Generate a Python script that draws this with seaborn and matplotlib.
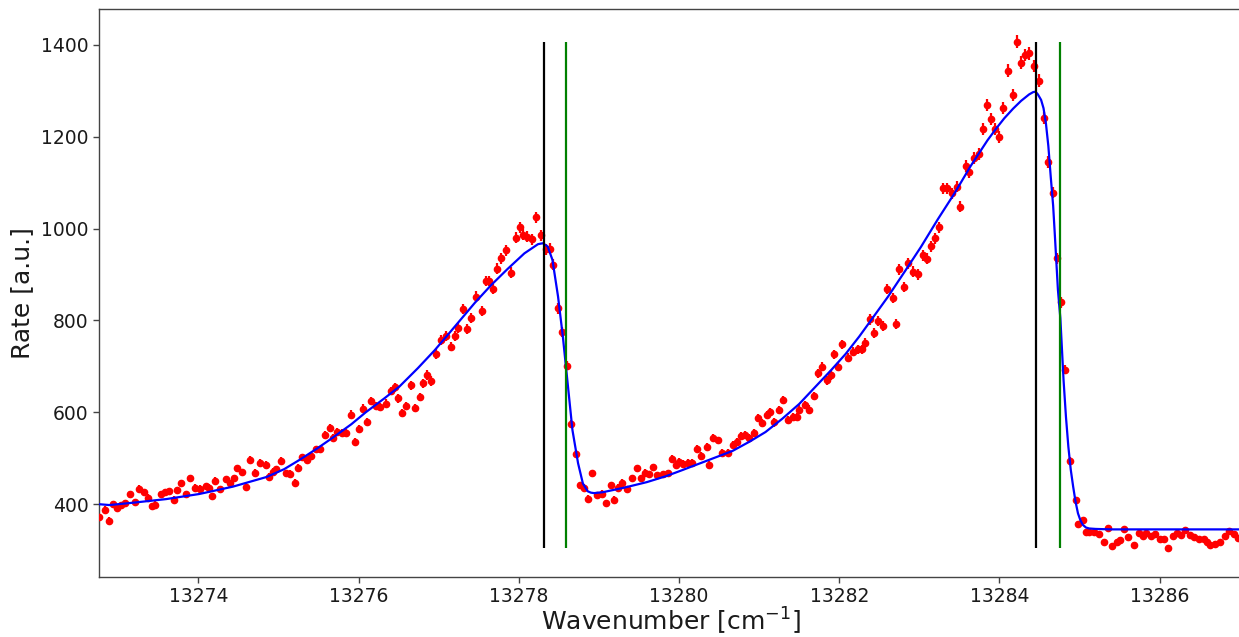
import matplotlib
matplotlib.use("Agg")
import matplotlib.pyplot as plt
import seaborn as sns
import pandas as pd

wavenumber = [
    13272.76, 13272.84, 13272.88, 13272.93, 13272.98, 13273.03, 13273.09, 13273.15, 13273.21, 13273.26,
    13273.32, 13273.37, 13273.42, 13273.46, 13273.53, 13273.58, 13273.64, 13273.69, 13273.73, 13273.78,
    13273.84, 13273.90, 13273.96, 13274.02, 13274.09, 13274.13, 13274.17, 13274.21, 13274.27, 13274.34,
    13274.40, 13274.44, 13274.48, 13274.54, 13274.60, 13274.65, 13274.71, 13274.77, 13274.84, 13274.88,
    13274.93, 13274.97, 13275.03, 13275.09, 13275.15, 13275.21, 13275.25, 13275.30, 13275.36, 13275.41,
    13275.47, 13275.52, 13275.58, 13275.64, 13275.68, 13275.73, 13275.79, 13275.84, 13275.91, 13275.96,
    13276.01, 13276.06, 13276.11, 13276.16, 13276.22, 13276.27, 13276.34, 13276.41, 13276.46, 13276.49,
    13276.54, 13276.59, 13276.65, 13276.71, 13276.77, 13276.81, 13276.86, 13276.91, 13276.97, 13277.03,
    13277.09, 13277.15, 13277.20, 13277.24, 13277.30, 13277.35, 13277.40, 13277.47, 13277.54, 13277.59,
    13277.63, 13277.68, 13277.73, 13277.78, 13277.84, 13277.90, 13277.97, 13278.02, 13278.05, 13278.10,
    13278.16, 13278.22, 13278.28, 13278.34, 13278.39, 13278.43, 13278.49, 13278.54, 13278.60, 13278.65,
    13278.72, 13278.77, 13278.82, 13278.86, 13278.91, 13278.98, 13279.04, 13279.09, 13279.15, 13279.19,
    13279.24, 13279.29, 13279.35, 13279.41, 13279.47, 13279.53, 13279.58, 13279.62, 13279.68, 13279.73,
    13279.80, 13279.86, 13279.91, 13279.96, 13280.00, 13280.05, 13280.11, 13280.16, 13280.22, 13280.28,
    13280.35, 13280.37, 13280.43, 13280.49, 13280.54, 13280.61, 13280.67, 13280.72, 13280.77, 13280.82,
    13280.87, 13280.93, 13280.98, 13281.04, 13281.10, 13281.14, 13281.19, 13281.25, 13281.30, 13281.36,
    13281.42, 13281.47, 13281.50, 13281.57, 13281.62, 13281.68, 13281.73, 13281.79, 13281.85, 13281.90,
    13281.94, 13281.99, 13282.04, 13282.11, 13282.17, 13282.23, 13282.28, 13282.32, 13282.38, 13282.43,
    13282.48, 13282.55, 13282.60, 13282.67, 13282.71, 13282.74, 13282.81, 13282.86, 13282.92, 13282.98,
    13283.04, 13283.10, 13283.14, 13283.19, 13283.24, 13283.29, 13283.35, 13283.41, 13283.47, 13283.51,
    13283.58, 13283.62, 13283.68, 13283.74, 13283.79, 13283.85, 13283.90, 13283.95, 13283.99, 13284.05,
    13284.11, 13284.17, 13284.22, 13284.27, 13284.32, 13284.37, 13284.43, 13284.49, 13284.55, 13284.61,
    13284.67, 13284.72, 13284.77, 13284.82, 13284.88, 13284.95, 13284.98, 13285.04, 13285.08, 13285.12,
    13285.18, 13285.24, 13285.30, 13285.36, 13285.41, 13285.47, 13285.51, 13285.56, 13285.61, 13285.68,
    13285.74, 13285.79, 13285.83, 13285.89, 13285.94, 13286.00, 13286.05, 13286.11, 13286.16, 13286.22,
    13286.27, 13286.32, 13286.38, 13286.43, 13286.49, 13286.55, 13286.59, 13286.63, 13286.69, 13286.75,
    13286.81, 13286.87, 13286.93, 13286.98,
]
rate = [
    372, 388, 364, 400, 391, 398, 403, 421, 405, 434,
    427, 414, 396, 399, 421, 427, 428, 410, 431, 445,
    421, 456, 436, 434, 439, 436, 418, 451, 432, 454,
    445, 456, 478, 469, 438, 497, 468, 490, 485, 460,
    470, 476, 494, 467, 466, 447, 479, 502, 497, 504,
    519, 519, 550, 565, 545, 557, 555, 555, 595, 536,
    563, 608, 579, 625, 613, 611, 619, 647, 654, 630,
    598, 614, 659, 610, 634, 663, 681, 668, 727, 757,
    766, 743, 766, 784, 824, 781, 806, 852, 821, 886,
    886, 868, 913, 935, 953, 904, 980, 1003, 986, 982,
    977, 1025, 985, 955, 956, 921, 826, 775, 701, 574,
    510, 441, 436, 412, 467, 420, 423, 403, 441, 410,
    436, 447, 432, 456, 478, 456, 468, 465, 480, 463,
    465, 467, 498, 485, 492, 487, 490, 490, 521, 505,
    525, 485, 545, 539, 512, 512, 529, 536, 548, 550,
    545, 555, 587, 576, 594, 601, 578, 605, 627, 583,
    590, 590, 606, 616, 606, 635, 685, 699, 670, 681,
    726, 699, 748, 719, 732, 737, 737, 750, 802, 772,
    799, 788, 868, 849, 792, 911, 873, 924, 906, 901,
    942, 934, 961, 979, 1003, 1088, 1088, 1077, 1091, 1048,
    1136, 1124, 1154, 1162, 1217, 1269, 1238, 1217, 1200, 1262,
    1344, 1290, 1407, 1361, 1378, 1382, 1354, 1322, 1240, 1144,
    1078, 935, 839, 693, 494, 409, 356, 365, 340, 340,
    340, 336, 318, 349, 308, 318, 322, 345, 329, 311,
    337, 330, 337, 330, 335, 325, 325, 305, 331, 337,
    332, 343, 332, 329, 325, 323, 318, 311, 314, 318,
    330, 342, 335, 327,
]
rate_err = [
    7, 7, 7, 7, 7, 7, 7, 7, 7, 7,
    7, 7, 7, 7, 7, 7, 7, 7, 7, 7,
    7, 8, 7, 7, 7, 7, 7, 8, 7, 8,
    7, 8, 8, 8, 7, 8, 8, 8, 8, 8,
    8, 8, 8, 8, 8, 7, 8, 8, 8, 8,
    8, 8, 9, 9, 8, 9, 9, 9, 9, 8,
    9, 9, 9, 9, 9, 9, 9, 9, 10, 9,
    9, 9, 10, 9, 9, 10, 10, 10, 10, 11,
    11, 10, 11, 11, 11, 11, 11, 11, 11, 11,
    11, 11, 12, 12, 12, 12, 12, 12, 12, 12,
    12, 12, 12, 12, 12, 12, 11, 11, 10, 9,
    8, 7, 7, 7, 8, 7, 7, 7, 7, 7,
    7, 7, 7, 8, 8, 8, 8, 8, 8, 8,
    8, 8, 8, 8, 8, 8, 8, 8, 8, 8,
    8, 8, 8, 8, 8, 8, 8, 8, 8, 9,
    8, 9, 9, 9, 9, 9, 9, 9, 9, 9,
    9, 9, 9, 9, 9, 9, 10, 10, 10, 10,
    10, 10, 10, 10, 10, 10, 10, 11, 11, 11,
    11, 11, 11, 11, 11, 12, 11, 12, 12, 12,
    12, 12, 12, 12, 12, 12, 12, 12, 12, 12,
    13, 13, 13, 13, 13, 13, 13, 13, 13, 13,
    14, 13, 14, 14, 14, 14, 14, 14, 13, 13,
    12, 12, 11, 10, 8, 7, 7, 7, 6, 6,
    6, 6, 6, 6, 6, 6, 6, 6, 6, 6,
    6, 6, 6, 6, 6, 6, 6, 6, 6, 6,
    6, 6, 6, 6, 6, 6, 6, 6, 6, 6,
    6, 6, 6, 6,
]

# ---- fitted curve ----
fit_x = [
    13272.75, 13272.89, 13273.18, 13273.60, 13274.01, 13274.43, 13274.85, 13275.07, 13275.26, 13275.49,
    13275.68, 13275.91, 13276.09, 13276.32, 13276.51, 13276.74, 13276.95, 13277.15, 13277.45, 13277.65,
    13277.86, 13278.07, 13278.24, 13278.30, 13278.36, 13278.42, 13278.49, 13278.55, 13278.61, 13278.67,
    13278.74, 13278.80, 13278.86, 13278.90, 13278.94, 13279.05, 13279.32, 13279.60, 13279.84, 13280.04,
    13280.25, 13280.46, 13280.67, 13280.88, 13281.08, 13281.29, 13281.50, 13281.70, 13281.90, 13282.08,
    13282.25, 13282.42, 13282.61, 13282.82, 13283.02, 13283.23, 13283.44, 13283.64, 13283.85, 13283.96,
    13284.06, 13284.17, 13284.27, 13284.37, 13284.42, 13284.45, 13284.48, 13284.52, 13284.55, 13284.58,
    13284.61, 13284.64, 13284.67, 13284.69, 13284.73, 13284.76, 13284.80, 13284.83, 13284.86, 13284.89,
    13284.92, 13284.95, 13284.98, 13285.01, 13285.04, 13285.08, 13285.12, 13285.20, 13285.40, 13287.04,
]
fit_y = [
    400, 398, 403, 411, 422, 438, 459, 476, 496, 522,
    545, 574, 600, 630, 656, 696, 735, 776, 838, 876,
    912, 946, 966, 968, 961, 932, 852, 765, 663, 561,
    489, 445, 428, 425, 424, 426, 436, 448, 461, 474,
    488, 502, 516, 536, 557, 586, 618, 655, 692, 727,
    765, 806, 852, 907, 960, 1020, 1077, 1136, 1192, 1218,
    1240, 1261, 1278, 1292, 1297, 1298, 1292, 1280, 1262, 1229,
    1180, 1113, 1050, 990, 866, 805, 670, 590, 525, 475,
    438, 405, 380, 365, 355, 349, 347, 346, 345, 345,
]

# ---- line positions ----
black_lines = [13278.32, 13284.45]
green_lines = [13278.59, 13284.76]

sns.set_theme(style="ticks")
plt.rcParams["font.family"] = ["DejaVu Sans"]
plt.rcParams["text.color"] = "#1a1a1a"
plt.rcParams["axes.labelcolor"] = "#1a1a1a"
plt.rcParams["xtick.color"] = "#444444"
plt.rcParams["ytick.color"] = "#444444"
plt.rcParams["xtick.labelcolor"] = "#1a1a1a"
plt.rcParams["ytick.labelcolor"] = "#1a1a1a"

fig = plt.figure(figsize=(12.39, 6.37), dpi=100)
W, H = 1239.0, 637.0
left_px, right_px, top_px, bottom_px = 99, 1243, 9, 576.7
ax = fig.add_axes([left_px / W, 1 - bottom_px / H,
                   (right_px - left_px) / W, (bottom_px - top_px) / H])

data = pd.DataFrame({"wavenumber": wavenumber, "rate": rate, "err": rate_err})
fit = pd.DataFrame({"x": fit_x, "y": fit_y})

ax.errorbar(data["wavenumber"], data["rate"], yerr=data["err"], fmt="o",
            color="red", ms=4.5, elinewidth=1.6, capsize=0, zorder=3)
sns.lineplot(data=fit, x="x", y="y", sort=False, color="blue", lw=1.6,
             ax=ax, zorder=4)

ymin, ymax = min(rate), max(rate)
ax.vlines(black_lines, ymin, ymax, colors="black", lw=1.6, zorder=5)
ax.vlines(green_lines, ymin, ymax, colors="#008000", lw=1.6, zorder=5)

ax.set_xlim(13272.76, 13287.04)
ax.set_ylim(242, 1478)
ax.set_xticks([13274, 13276, 13278, 13280, 13282, 13284, 13286])
ax.set_yticks([400, 600, 800, 1000, 1200, 1400])
ax.ticklabel_format(useOffset=False, style="plain", axis="x")
ax.tick_params(labelsize=13.5, length=4, width=1.0)

for side in ["left", "bottom", "top", "right"]:
    ax.spines[side].set_visible(True)
    ax.spines[side].set_color("#444444")
    ax.spines[side].set_linewidth(1.0)

ax.set_xlabel("Wavenumber [cm$^{-1}$]", fontsize=18, labelpad=0)
ax.set_ylabel("Rate [a.u.]", fontsize=18, labelpad=5)

fig.savefig("out.png", dpi=100)
